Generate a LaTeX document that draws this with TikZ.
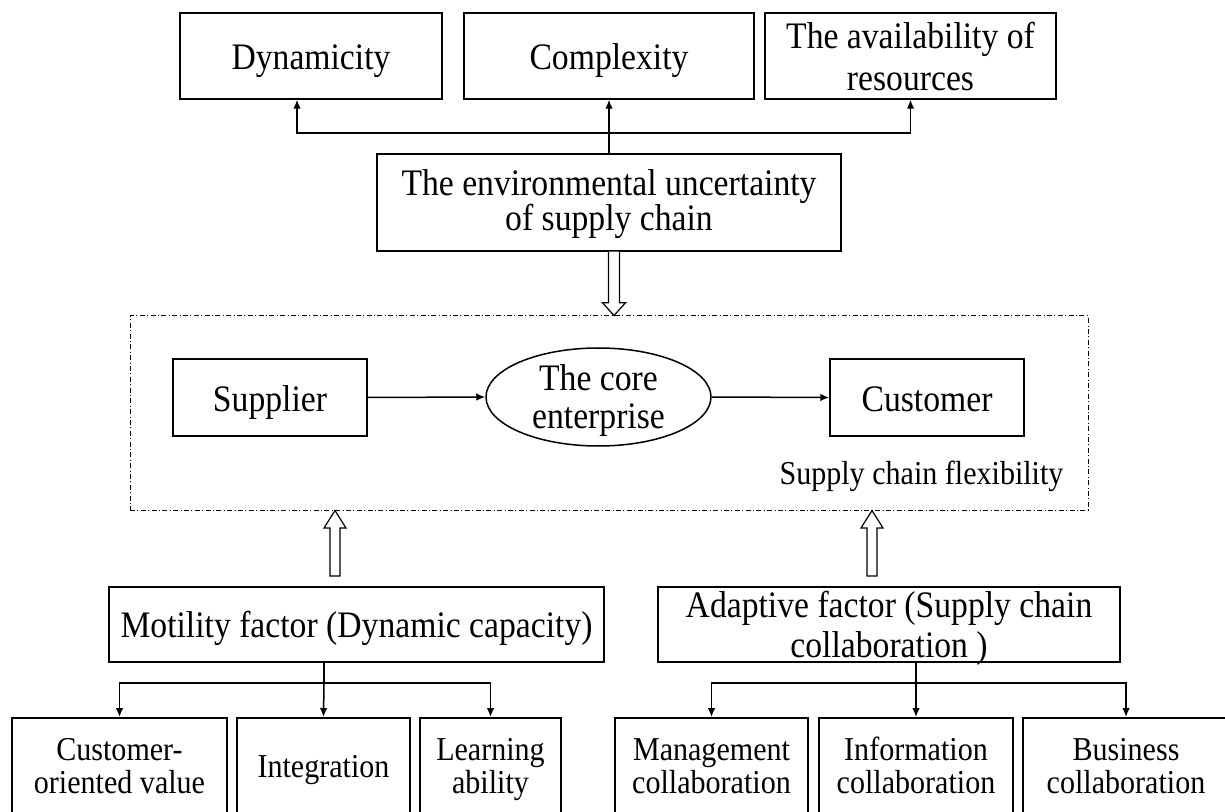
\documentclass[tikz,border=0pt]{standalone}
\usepackage{fontspec}
\setmainfont{Liberation Serif}[FakeStretch=0.9]
\usetikzlibrary{arrows.meta,calc,shapes.geometric}
\begin{document}
\begin{tikzpicture}[x=0.5pt,y=-0.5pt,
  box/.style={draw, line width=0.75pt, inner sep=0pt, align=center, font=\fontsize{18.7}{20}\selectfont},
  sbox/.style={draw, line width=0.75pt, inner sep=0pt, align=center, font=\fontsize{16.7}{16.5}\selectfont, minimum height=52pt, text height=24pt, text depth=0pt},
  arr/.style={line width=0.75pt, -{Latex[length=4.5pt,width=3.8pt]}},
  plain/.style={line width=0.75pt},
  hollow/.style={draw, line width=0.6pt, fill=white},
  dashdot/.style={draw, line width=0.5pt, dash pattern=on 2.5pt off 1.2pt on 0.5pt off 1.2pt},
]
\useasboundingbox (0,0) rectangle (1225,812);
\clip (0,0) rectangle (1225,812);

% top row
\node[box, minimum width=131pt, minimum height=43pt, text height=13.5pt, text depth=0pt] (dyn) at (311,56) {Dynamicity};
\node[box, minimum width=145pt, minimum height=43pt, text height=13.5pt, text depth=0pt] (cmp) at (609,56) {Complexity};
\node[box, minimum width=145.5pt, minimum height=43pt, font=\fontsize{18.7}{21}\selectfont, text height=35pt, text depth=0pt] (avl) at (910.5,56) {The availability of\\resources};

% environmental uncertainty
\node[box, minimum width=232pt, minimum height=48.5pt, font=\fontsize{18.7}{17.5}\selectfont, text height=28.5pt, text depth=0pt] (env) at (609,202.5) {The environmental uncertainty\\of supply chain};

\coordinate (jt) at (609,133);
\draw[arr] (env.north) -- (cmp.south);
\draw[arr] (jt) -| ($(dyn.south)+(-14,0)$);
\draw[arr] (jt) -| (avl.south);

% dash-dot frame
\node[dashdot, minimum width=479pt, minimum height=97pt, inner sep=0pt] (scf) at (609,413) {};

\node[box, minimum width=97pt, minimum height=38.5pt, text height=13.5pt, text depth=0pt] (sup) at (270,397.5) {Supplier};
\node[box, ellipse, minimum width=112.5pt, minimum height=49pt, font=\fontsize{18.7}{19}\selectfont, text height=31pt, text depth=0pt] (core) at (598.5,397) {The core\\enterprise};
\node[box, minimum width=97pt, minimum height=38.5pt, text height=13.5pt, text depth=0pt] (cus) at (927,397.5) {Customer};
\node[font=\fontsize{16.7}{18}\selectfont, anchor=base, inner sep=0pt] (flex) at (921.5,484) {Supply chain flexibility};

\draw[arr] (sup.east) -- (core.west);
\draw[arr] (core.east) -- (cus.west);

% hollow arrow down (env -> frame)
\draw[hollow] ($(env.south)+(-0.5,0)$) coordinate (h0)
  -- ++(0,51) -- ++(-6,0) -- ($(scf.north)+(5,0)$) -- ($(h0)+(17,51)$) -- ++(-6,0) -- ++(0,-51);

% factors
\node[box, minimum width=247.5pt, minimum height=37.5pt, text height=12.5pt, text depth=0pt] (mot) at (356.5,624.5) {Motility factor (Dynamic capacity)};
\node[box, minimum width=231pt, minimum height=37.5pt, text height=32.5pt, text depth=0pt] (adp) at (889,624.5) {Adaptive factor (Supply chain\\collaboration )};

% hollow arrows up
\coordinate (ul) at (335,576);
\coordinate (ur) at (872,576);
\draw[hollow] ($(ul)+(-5,0)$) -- ++(0,-48) -- ++(-6,0) -- (ul |- scf.south) -- ($(ul)+(11,-48)$) -- ++(-6,0) -- ++(0,48) -- cycle;
\draw[hollow] ($(ur)+(-5,0)$) -- ++(0,-48) -- ++(-6,0) -- (ur |- scf.south) -- ($(ur)+(11,-48)$) -- ++(-6,0) -- ++(0,48) -- cycle;

% bottom row left
\node[sbox, minimum width=107.5pt, anchor=north] (cov) at (119.5,717) {Customer-\\oriented value};
\node[sbox, minimum width=86.5pt, anchor=north, text height=8pt, text depth=0pt] (int) at (323.5,717) {Integration};
\node[sbox, minimum width=70.5pt, anchor=north] (lrn) at (490.5,717) {Learning\\ability};

\coordinate (mj) at (324,683);
\draw[plain] (mot.south -| mj) -- (mj);
\draw[arr] (mj) -| (cov.north);
\draw[arr] (mj) -- (int.north);
\draw[arr] (mj) -| (lrn.north);

% bottom row right
\node[sbox, minimum width=96.5pt, anchor=north] (mgc) at (711.5,717) {Management\\collaboration};
\node[sbox, minimum width=97pt, anchor=north] (inf) at (916,717) {Information\\collaboration};
\node[sbox, minimum width=103pt, anchor=north] (bus) at (1126,717) {Business\\collaboration};

\coordinate (aj) at (916,683);
\draw[plain] (adp.south -| aj) -- (aj);
\draw[arr] (aj) -| (mgc.north);
\draw[arr] (aj) -- (inf.north);
\draw[arr] (aj) -| (bus.north);
\end{tikzpicture}
\end{document}
